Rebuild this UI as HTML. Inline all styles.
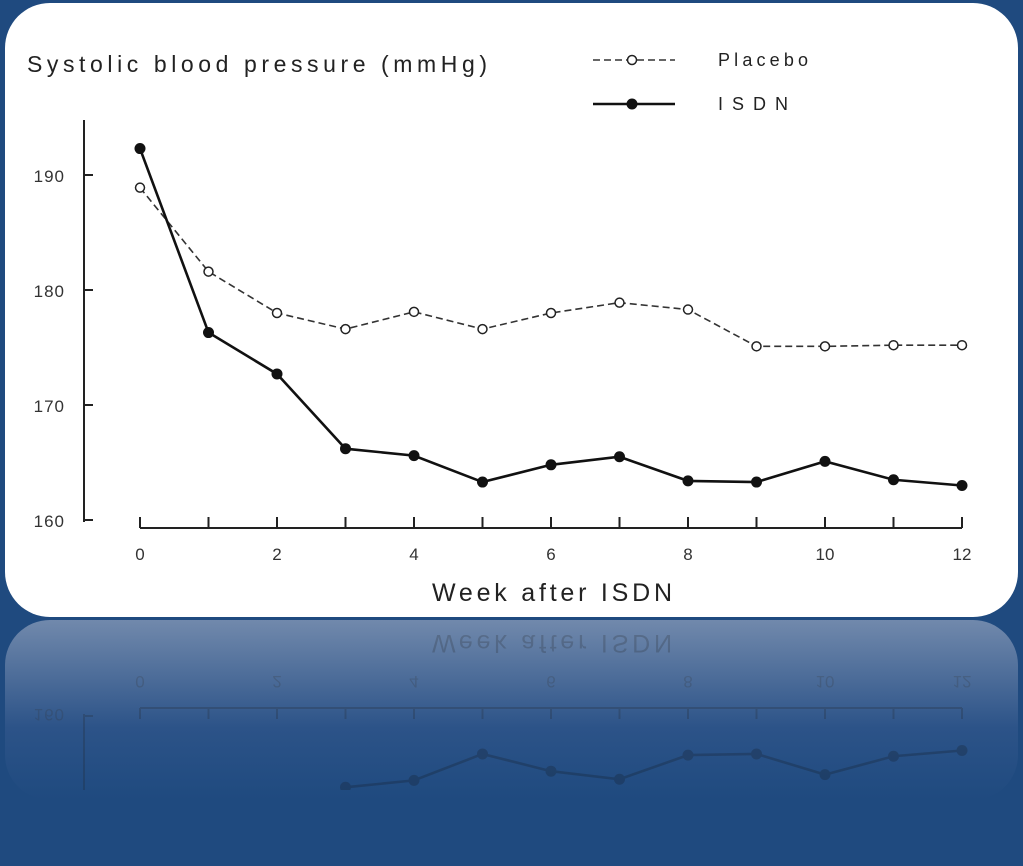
<!DOCTYPE html>
<html><head><meta charset="utf-8"><style>
html,body{margin:0;padding:0;background:#1f4a7f;width:1023px;height:866px;overflow:hidden;}
svg{display:block;font-family:"Liberation Sans",sans-serif;}
</style></head><body>
<svg id="root" width="1023" height="866" viewBox="0 0 1023 866">
<defs>
<linearGradient id="refl" x1="0" y1="0" x2="0" y2="1">
<stop offset="0" stop-color="#7189ac"/><stop offset="0.6" stop-color="#2c5388"/><stop offset="1" stop-color="#1f4a7f"/>
</linearGradient>
<clipPath id="rc"><rect x="5" y="620" width="1013" height="170" rx="45"/></clipPath>
</defs>
<rect width="1023" height="866" fill="#1f4a7f"/>
<rect x="5" y="620" width="1013" height="180" rx="45" fill="url(#refl)"/>
<g id="reflect" clip-path="url(#rc)" opacity="0.22"></g>
<rect x="5" y="3" width="1013" height="614" rx="45" fill="#ffffff"/>
<g id="chart"></g>
</svg>
<script>
const weeks=[0,1,2,3,4,5,6,7,8,9,10,11,12];
const placebo=[188.9,181.6,178.0,176.6,178.1,176.6,178.0,178.9,178.3,175.1,175.1,175.2,175.2];
const isdn=[192.3,176.3,172.7,166.2,165.6,163.3,164.8,165.5,163.4,163.3,165.1,163.5,163.0];
const yTicks=[160,170,180,190];
const xTickLabels=[0,2,4,6,8,10,12];
const NS="http://www.w3.org/2000/svg";
const x=w=>140+w*(822/12);
const y=v=>520-(v-160)*11.5;
function mk(tag,attrs,parent,txt){const e=document.createElementNS(NS,tag);for(const k in attrs)e.setAttribute(k,attrs[k]);if(txt!==undefined)e.textContent=txt;parent.appendChild(e);return e;}
function draw(g){
  const t=mk('text',{x:27,y:72,'font-size':23,fill:'#222',textLength:460,lengthAdjust:'spacing'},g,'Systolic blood pressure (mmHg)');
  
  
  const ya=mk('line',{x1:84,y1:120,x2:84,y2:522,stroke:'#222','stroke-width':2},g);
  
  
  yTicks.forEach(v=>{
    mk('line',{x1:84,y1:y(v),x2:93,y2:y(v),stroke:'#222','stroke-width':2},g);
    const l=mk('text',{x:65,y:y(v)+7,'font-size':17,fill:'#333','text-anchor':'end','letter-spacing':'1'},g,v);
    
    
  });
  const xa=mk('line',{x1:140,y1:528,x2:962,y2:528,stroke:'#222','stroke-width':2},g);
  
  
  weeks.forEach(w=>mk('line',{x1:x(w),y1:517,x2:x(w),y2:528,stroke:'#222','stroke-width':2},g));
  xTickLabels.forEach(w=>{
    const l=mk('text',{x:x(w),y:560,'font-size':17,fill:'#333','text-anchor':'middle'},g,w);
    
    
  });
  const xt=mk('text',{x:432,y:601,'font-size':25,fill:'#222',textLength:240,lengthAdjust:'spacing'},g,'Week after ISDN');
  
  
  const pl=mk('polyline',{points:weeks.map((w,i)=>x(w)+','+y(placebo[i])).join(' '),fill:'none',stroke:'#333','stroke-width':1.6,'stroke-dasharray':'7,4'},g);
  
  
  const il=mk('polyline',{points:weeks.map((w,i)=>x(w)+','+y(isdn[i])).join(' '),fill:'none',stroke:'#111','stroke-width':2.6},g);
  
  
  weeks.forEach((w,i)=>{
    const c=mk('circle',{cx:x(w),cy:y(placebo[i]),r:4.5,fill:'#fff',stroke:'#222','stroke-width':1.5},g);
    
    
    const d=mk('circle',{cx:x(w),cy:y(isdn[i]),r:5.5,fill:'#111'},g);
    
    
  });
  mk('line',{x1:593,y1:60,x2:675,y2:60,stroke:'#333','stroke-width':1.6,'stroke-dasharray':'7,4'},g);
  mk('circle',{cx:632,cy:60,r:4.5,fill:'#fff',stroke:'#222','stroke-width':1.5},g);
  const lp=mk('text',{x:718,y:66,'font-size':18,fill:'#222',textLength:90,lengthAdjust:'spacing'},g,'Placebo');
  
  
  mk('line',{x1:593,y1:104,x2:675,y2:104,stroke:'#111','stroke-width':2.6},g);
  mk('circle',{cx:632,cy:104,r:5.5,fill:'#111'},g);
  const li=mk('text',{x:718,y:110,'font-size':18,fill:'#222','letter-spacing':'9'},g,'ISDN');
  
  
}
draw(document.getElementById('chart'));
const r=document.getElementById('reflect');
const inner=mk('g',{transform:'translate(0,1236) scale(1,-1)'},r);
draw(inner);
</script>
</body></html>
